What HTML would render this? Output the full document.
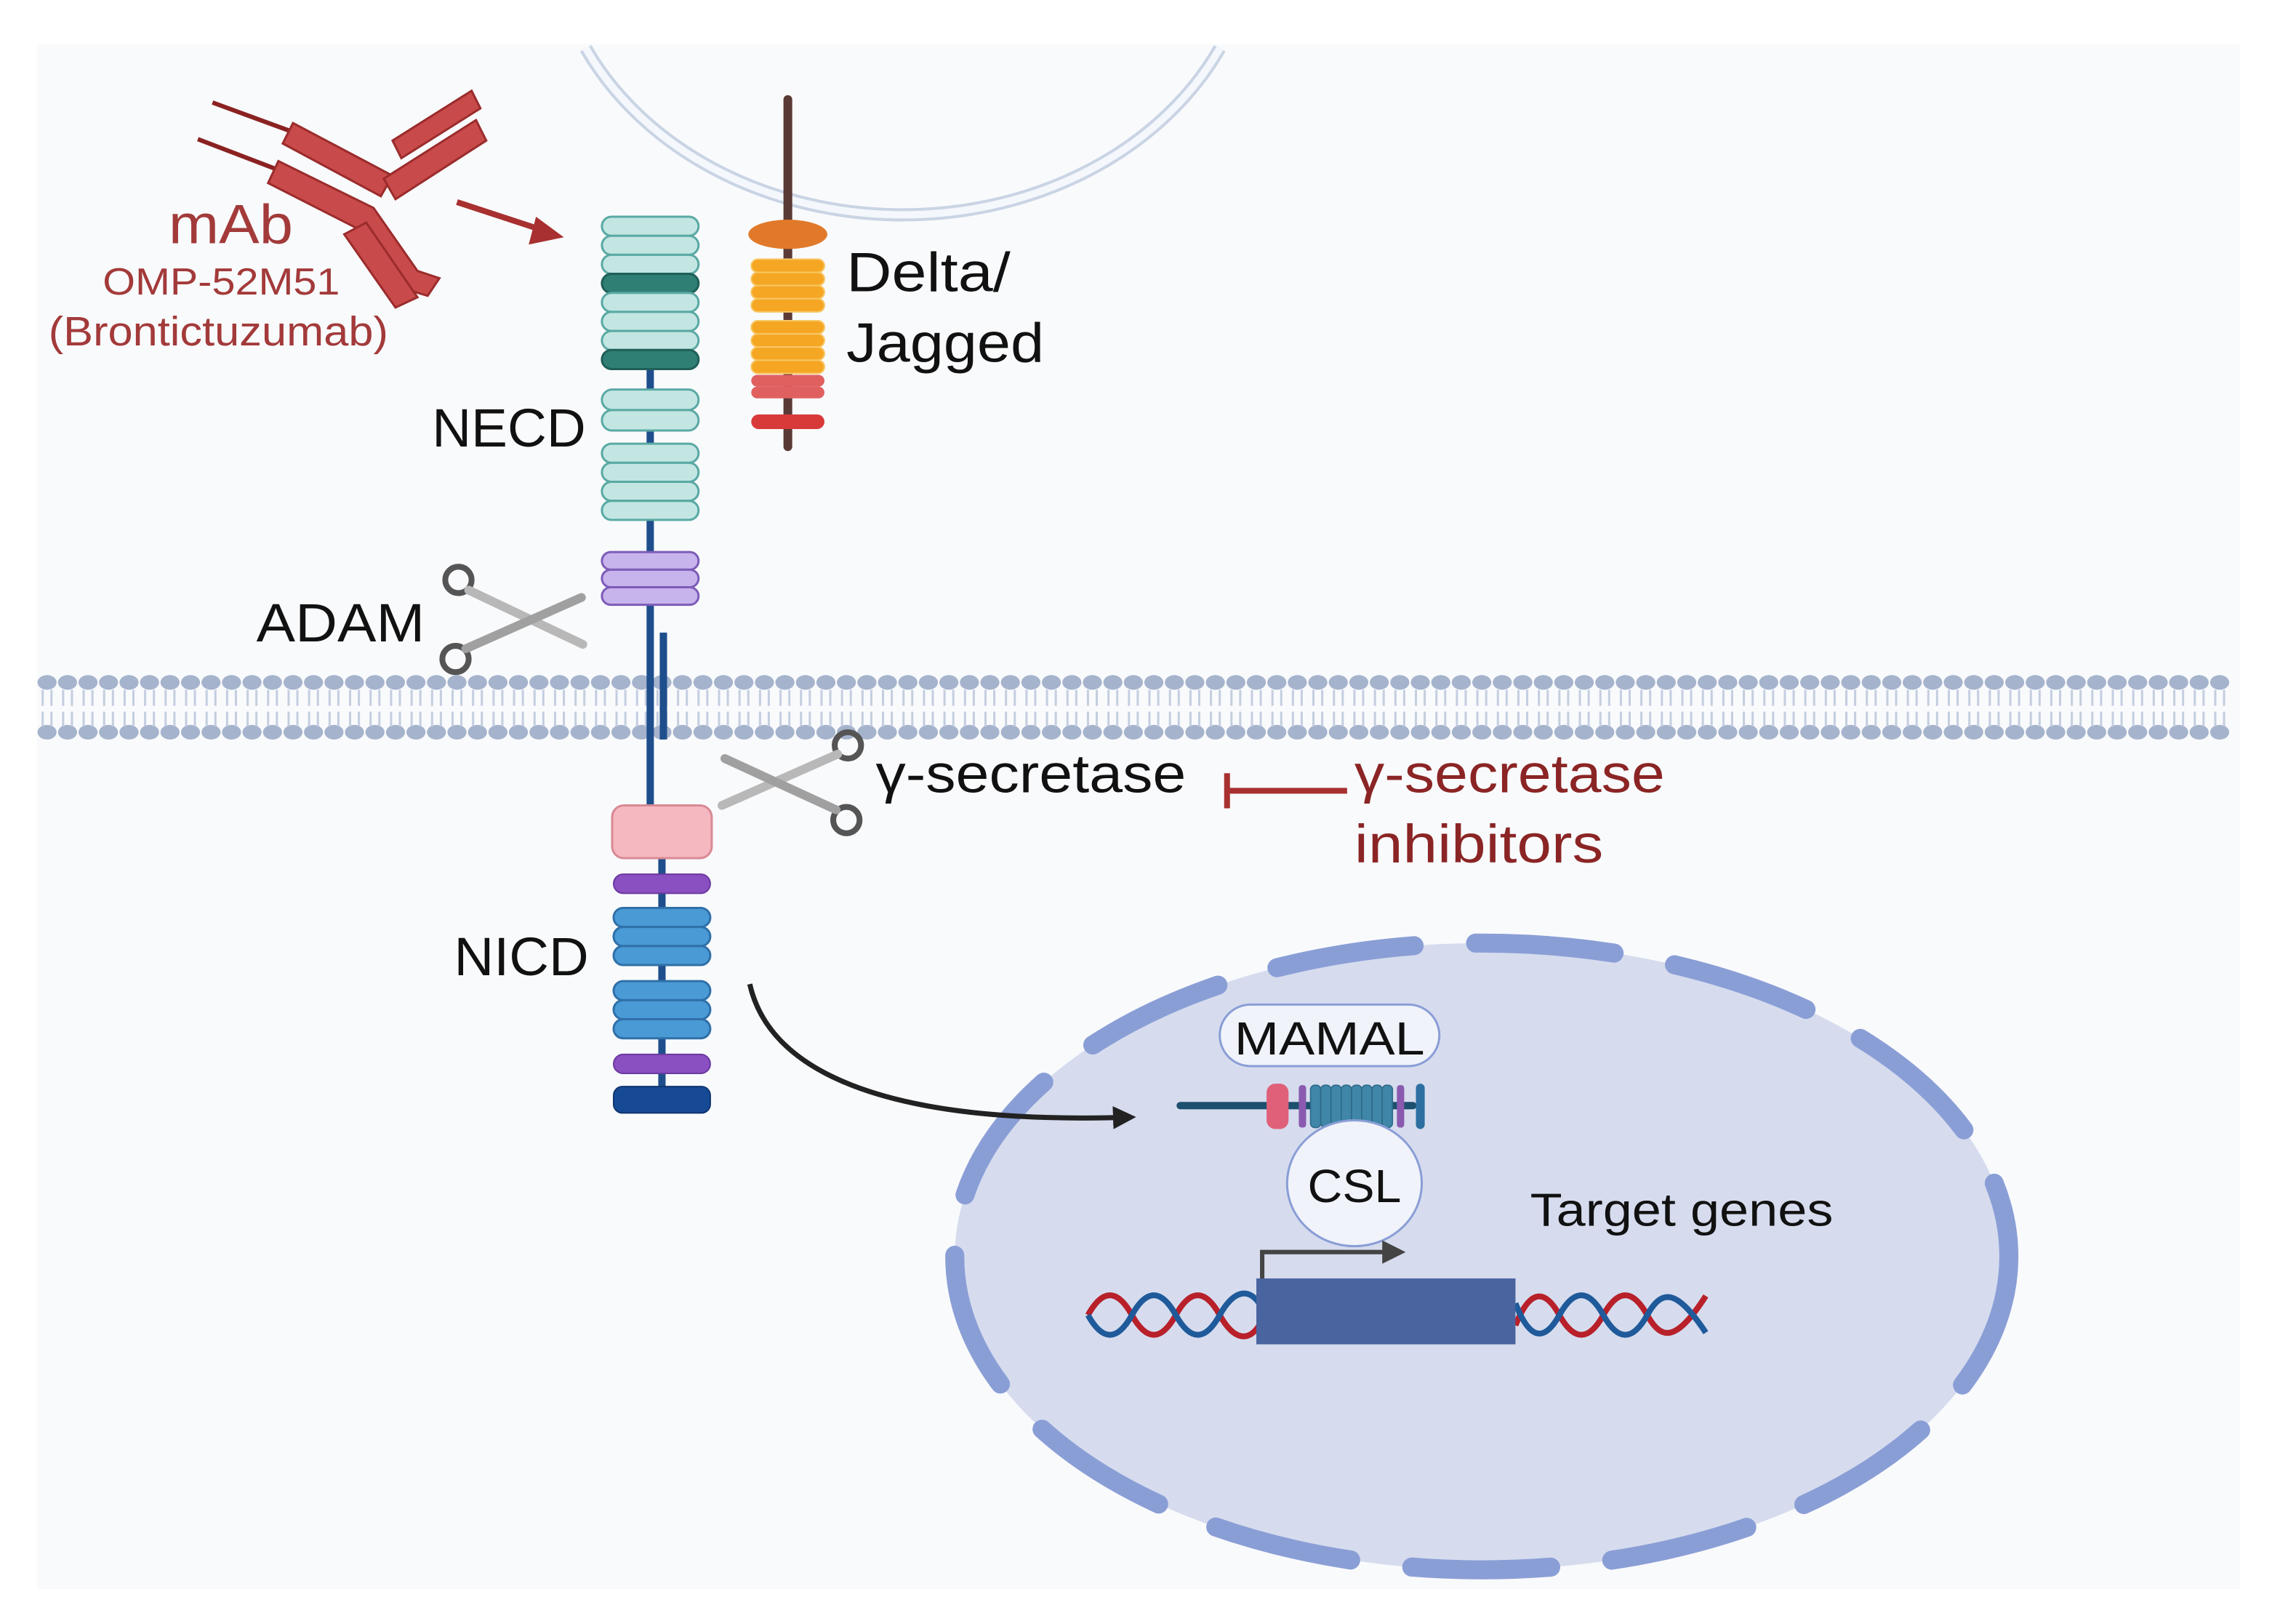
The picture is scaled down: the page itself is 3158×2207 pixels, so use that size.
<!DOCTYPE html>
<html><head><meta charset="utf-8"><style>
html,body{margin:0;padding:0;background:#fff;}
svg{display:block;}
text{font-family:"Liberation Sans",sans-serif;}
</style></head><body>
<svg width="3158" height="2207" viewBox="0 0 1568 1096" xmlns="http://www.w3.org/2000/svg">
<defs>
<marker id="ah" viewBox="0 0 10 10" refX="5" refY="5" markerWidth="4.5" markerHeight="4.5" orient="auto"><path d="M0,0 L10,5 L0,10 z" fill="#222"/></marker>
</defs>
<rect width="1568" height="1096" fill="#fff"/>
<rect x="25" y="30" width="1505" height="1055" fill="#f9fafc"/>
<!-- top cell arc -->
<path d="M400,33 A240,200 0 0 0 833,33" fill="none" stroke="#c9d4e4" stroke-width="9"/>
<path d="M400,33 A240,200 0 0 0 833,33" fill="none" stroke="#f4f7fb" stroke-width="5"/>

<!-- membrane -->
<g id="heads"></g>

<!-- antibody -->
<g fill="#c94a4a" stroke="#9b2c2c" stroke-width="1.5">
<path d="M145,70 L205,92" stroke="#8b2222" stroke-width="3"/>
<path d="M135,95 L195,118" stroke="#8b2222" stroke-width="3"/>
<polygon points="200,84 268,120 260,134 193,98"/>
<polygon points="190,110 255,142 285,185 300,190 292,202 272,196 242,155 183,125"/>
<polygon points="262,122 325,82 332,96 270,136"/>
<polygon points="268,96 322,62 328,74 274,108"/>
<polygon points="235,160 250,152 285,203 270,210"/>
</g>
<path d="M312,138 L370,157" stroke="#a83030" stroke-width="4"/>
<polygon points="385,162 366,148 361,167" fill="#a83030"/>
<text x="115" y="166" font-size="38" fill="#a33a3a" textLength="85" lengthAdjust="spacingAndGlyphs">mAb</text>
<text x="70" y="201" font-size="26" fill="#a33a3a" textLength="162" lengthAdjust="spacingAndGlyphs">OMP-52M51</text>
<text x="33" y="236" font-size="28" fill="#a33a3a" textLength="232" lengthAdjust="spacingAndGlyphs">(Brontictuzumab)</text>

<!-- notch stem -->
<line x1="444" y1="150" x2="444" y2="552" stroke="#1f4e8c" stroke-width="5"/>
<line x1="453" y1="432" x2="453" y2="505" stroke="#1f4e8c" stroke-width="5"/>
<g stroke="#5aa9a4" stroke-width="1.5" fill="#c3e6e2">
<rect x="411" y="148" width="66" height="13" rx="6.5"/>
<rect x="411" y="161" width="66" height="13" rx="6.5"/>
<rect x="411" y="174" width="66" height="13" rx="6.5"/>
<rect x="411" y="187" width="66" height="13" rx="6.5" fill="#2f7f75" stroke="#1f5f58"/>
<rect x="411" y="200" width="66" height="13" rx="6.5"/>
<rect x="411" y="213" width="66" height="13" rx="6.5"/>
<rect x="411" y="226" width="66" height="13" rx="6.5"/>
<rect x="411" y="239" width="66" height="13" rx="6.5" fill="#2f7f75" stroke="#1f5f58"/>
<rect x="411" y="266" width="66" height="14" rx="7"/>
<rect x="411" y="280" width="66" height="14" rx="7"/>
<rect x="411" y="303" width="66" height="13" rx="6.5"/>
<rect x="411" y="316" width="66" height="13" rx="6.5"/>
<rect x="411" y="329" width="66" height="13" rx="6.5"/>
<rect x="411" y="342" width="66" height="13" rx="6.5"/>
</g>
<g stroke="#7d5cb8" stroke-width="1.5" fill="#c8b4ec">
<rect x="411" y="377" width="66" height="12" rx="6"/>
<rect x="411" y="389" width="66" height="12" rx="6"/>
<rect x="411" y="401" width="66" height="12" rx="6"/>
</g>
<!-- NICD -->
<line x1="452" y1="586" x2="452" y2="760" stroke="#1f4e8c" stroke-width="5"/>
<rect x="418" y="550" width="68" height="36" rx="8" fill="#f6b8c0" stroke="#d88a94" stroke-width="1.5"/>
<rect x="419" y="597" width="66" height="13" rx="6.5" fill="#8a4fc0" stroke="#6a3aa0"/>
<g fill="#4a9ad6" stroke="#2f70a8" stroke-width="1.5">
<rect x="419" y="620" width="66" height="13" rx="6.5"/>
<rect x="419" y="633" width="66" height="13" rx="6.5"/>
<rect x="419" y="646" width="66" height="13" rx="6.5"/>
<rect x="419" y="670" width="66" height="13" rx="6.5"/>
<rect x="419" y="683" width="66" height="13" rx="6.5"/>
<rect x="419" y="696" width="66" height="13" rx="6.5"/>
</g>
<rect x="419" y="720" width="66" height="13" rx="6.5" fill="#8a4fc0" stroke="#6a3aa0"/>
<rect x="419" y="742" width="66" height="18" rx="6" fill="#174a94" stroke="#0f3570"/>

<!-- Delta -->
<line x1="538" y1="68" x2="538" y2="305" stroke="#5a3a35" stroke-width="6" stroke-linecap="round"/>
<ellipse cx="538" cy="160" rx="27" ry="10" fill="#e07a2a"/>
<g fill="#f5a623" stroke="#f8c866" stroke-width="1">
<rect x="513" y="177" width="50" height="9" rx="4.5"/><rect x="513" y="186" width="50" height="9" rx="4.5"/><rect x="513" y="195" width="50" height="9" rx="4.5"/><rect x="513" y="204" width="50" height="9" rx="4.5"/>
<rect x="513" y="219" width="50" height="9" rx="4.5"/><rect x="513" y="228" width="50" height="9" rx="4.5"/><rect x="513" y="237" width="50" height="9" rx="4.5"/><rect x="513" y="246" width="50" height="9" rx="4.5"/>
</g>
<rect x="513" y="256" width="50" height="8" rx="4" fill="#e06060"/>
<rect x="513" y="264" width="50" height="8" rx="4" fill="#e06060"/>
<rect x="513" y="283" width="50" height="10" rx="5" fill="#d83a3a"/>
<text x="578" y="199" font-size="38" fill="#111" textLength="112" lengthAdjust="spacingAndGlyphs">Delta/</text>
<text x="578" y="247" font-size="38" fill="#111" textLength="135" lengthAdjust="spacingAndGlyphs">Jagged</text>
<text x="295" y="305" font-size="37" fill="#111" textLength="105" lengthAdjust="spacingAndGlyphs">NECD</text>
<text x="175" y="438" font-size="37" fill="#111" textLength="115" lengthAdjust="spacingAndGlyphs">ADAM</text>
<text x="310" y="666" font-size="37" fill="#111" textLength="92" lengthAdjust="spacingAndGlyphs">NICD</text>

<!-- ADAM scissors -->
<g fill="none" stroke="#555" stroke-width="4">
<circle cx="313" cy="396" r="9"/><circle cx="311" cy="450" r="9"/>
</g>
<path d="M320,403 L398,440" stroke="#b8b8b8" stroke-width="6" stroke-linecap="round"/>
<path d="M318,443 L397,408" stroke="#a0a0a0" stroke-width="6" stroke-linecap="round"/>
<!-- gamma scissors -->
<g fill="none" stroke="#555" stroke-width="4">
<circle cx="579" cy="509" r="9"/><circle cx="578" cy="560" r="9"/>
</g>
<path d="M572,515 L493,550" stroke="#b8b8b8" stroke-width="6" stroke-linecap="round"/>
<path d="M571,553 L495,518" stroke="#a0a0a0" stroke-width="6" stroke-linecap="round"/>
<text x="598" y="541" font-size="37" fill="#111" textLength="212" lengthAdjust="spacingAndGlyphs">γ-secretase</text>
<line x1="838" y1="540" x2="920" y2="540" stroke="#a83030" stroke-width="4"/>
<line x1="838" y1="528" x2="838" y2="552" stroke="#a83030" stroke-width="4"/>
<text x="925" y="541" font-size="37" fill="#8b2525" textLength="212" lengthAdjust="spacingAndGlyphs">γ-secretase</text>
<text x="925" y="589" font-size="37" fill="#8b2525" textLength="170" lengthAdjust="spacingAndGlyphs">inhibitors</text>

<!-- nucleus -->
<ellipse cx="1012" cy="858" rx="360" ry="214" fill="#d6dcee"/>
<ellipse cx="1012" cy="858" rx="360" ry="214" fill="none" stroke="#8a9ed6" stroke-width="13" stroke-linecap="round" stroke-dasharray="95 42"/>

<!-- curved arrow -->
<path d="M512,672 C525,730 600,768 768,763" fill="none" stroke="#222" stroke-width="3.5" marker-end="url(#ah)"/>

<!-- MAMAL -->
<rect x="833" y="686" width="150" height="42" rx="21" fill="#f0f3fa" stroke="#8a9ed6" stroke-width="1.5"/>
<text x="843" y="720" font-size="32" fill="#111" textLength="130" lengthAdjust="spacingAndGlyphs">MAMAL</text>
<line x1="806" y1="755" x2="965" y2="755" stroke="#1d4f6e" stroke-width="5" stroke-linecap="round"/>
<rect x="865" y="740" width="15" height="31" rx="6" fill="#e0607a"/>
<rect x="887" y="741" width="5" height="29" rx="2" fill="#8a5ab0"/>
<g fill="#3f86a8" stroke="#2d6a88" stroke-width="0.8">
<rect x="895" y="741" width="7" height="29" rx="3"/><rect x="902" y="741" width="7" height="29" rx="3"/><rect x="909" y="741" width="7" height="29" rx="3"/><rect x="916" y="741" width="7" height="29" rx="3"/><rect x="923" y="741" width="7" height="29" rx="3"/><rect x="930" y="741" width="7" height="29" rx="3"/><rect x="937" y="741" width="7" height="29" rx="3"/><rect x="944" y="741" width="7" height="29" rx="3"/>
</g>
<rect x="954" y="741" width="5" height="29" rx="2" fill="#8a5ab0"/>
<rect x="967" y="740" width="6" height="31" rx="3" fill="#2d6fa0"/>
<ellipse cx="925" cy="808" rx="46" ry="43" fill="#f0f3fa" stroke="#8a9ed6" stroke-width="1.5"/>
<text x="893" y="821" font-size="32" fill="#111" textLength="64" lengthAdjust="spacingAndGlyphs">CSL</text>
<text x="1045" y="837" font-size="32" fill="#111" textLength="207" lengthAdjust="spacingAndGlyphs">Target genes</text>
<!-- promoter arrow -->
<path d="M862,874 L862,855 L945,855" fill="none" stroke="#444" stroke-width="3"/>
<polygon points="960,855 944,847 944,863" fill="#444"/>
<!-- DNA -->
<g fill="none" stroke-width="4">
<path d="M743,898 C753,880 763,880 773,898 S793,916 803,898 S823,880 833,898 S853,916 860,905" stroke="#b8202a"/>
<path d="M743,898 C753,916 763,916 773,898 S793,880 803,898 S823,916 833,898 S853,880 860,890" stroke="#1f5a9a"/>
<path d="M1035,905 C1045,880 1055,880 1065,898 S1085,916 1095,898 S1115,880 1125,898 S1145,916 1165,885" stroke="#b8202a"/>
<path d="M1035,890 C1045,916 1055,916 1065,898 S1085,880 1095,898 S1115,916 1125,898 S1145,880 1165,910" stroke="#1f5a9a"/>
</g>
<rect x="858" y="873" width="177" height="45" fill="#4a64a0"/>
</svg>
<script>
(function(){
var ns="http://www.w3.org/2000/svg",g=document.getElementById("heads");
for(var x=32;x<1525;x+=14){
 [466,500].forEach(function(y){var e=document.createElementNS(ns,"ellipse");e.setAttribute("cx",x);e.setAttribute("cy",y);e.setAttribute("rx",6.5);e.setAttribute("ry",5);e.setAttribute("fill","#a5b3cc");g.appendChild(e);});
 var p=document.createElementNS(ns,"path");
 p.setAttribute("d","M"+(x-3)+",471 L"+(x-3)+",482 M"+(x+3)+",471 L"+(x+3)+",482 M"+(x-3)+",486 L"+(x-3)+",496 M"+(x+3)+",486 L"+(x+3)+",496");
 p.setAttribute("stroke","#c4cee0");p.setAttribute("stroke-width","1.5");g.appendChild(p);
}
})();
</script>
</body></html>
